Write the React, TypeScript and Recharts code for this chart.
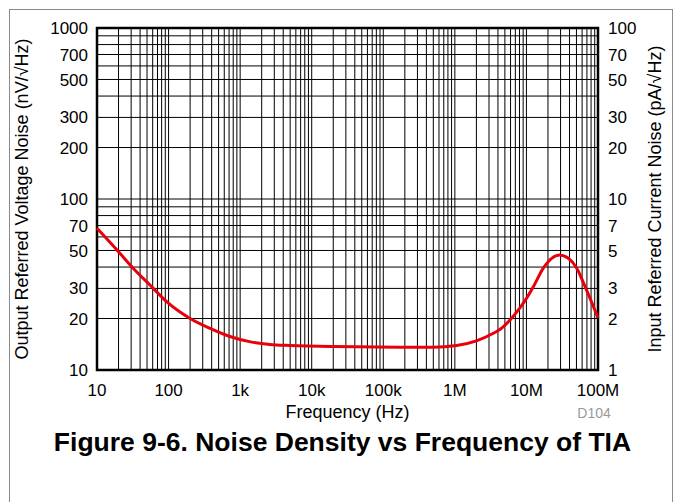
import React from "react";
import { LineChart, Line, XAxis, YAxis, CartesianGrid, ReferenceArea, Label } from "recharts";

const FONT = "'Liberation Sans', Arial, sans-serif";

// Noise density (Hz -> nV/√Hz)
const freqHz = [10, 19, 32, 55, 94, 200, 380, 720, 1400, 2600, 5000, 2e4, 1.7e5, 5e5, 1.06e6, 2e6, 3.45e6, 4.3e6, 6.6e6, 9e6, 1.25e7, 1.72e7, 2.25e7, 2.88e7, 3.85e7, 5.05e7, 6.6e7, 1e8];
const noiseNv = [67.5, 50.4, 39.4, 31.4, 25.1, 20.0, 17.5, 15.7, 14.6, 14.1, 13.9, 13.7, 13.6, 13.6, 13.9, 14.8, 16.4, 17.3, 20.7, 24.5, 30.7, 39.4, 45.0, 47.1, 45.0, 39.4, 30.7, 20.2];

const data = freqHz.map((f, i) => ({ f, v: noiseNv[i] }));

// axis labels
const xDecades = [10, 100, 1e3, 1e4, 1e5, 1e6, 1e7, 1e8];
const xDecadeLabels = ["10", "100", "1k", "10k", "100k", "1M", "10M", "100M"];
const leftLabels = [10, 20, 30, 50, 70, 100, 200, 300, 500, 700, 1000];
const rightLabels = [1, 2, 3, 5, 7, 10, 20, 30, 50, 70, 100];
const multipliers = [1, 2, 3, 4, 5, 6, 7, 8, 9];

// grid ticks: every integer multiple inside each decade
const xGrid = xDecades.slice(0, -1).flatMap(d => multipliers.map(m => d * m)).concat([1e8]);
const yGrid = [10, 100].flatMap(d => multipliers.map(m => d * m)).concat([1000]);
const yRightGrid = yGrid.map(v => v / 10);

const fmtX = (v: number) => {
  const i = xDecades.findIndex(d => Math.abs(d - v) < d * 1e-6);
  return i >= 0 ? xDecadeLabels[i] : "";
};
const fmtY = (list: number[]) => (v: number) => (list.some(l => Math.abs(l - v) < 1e-6) ? String(v) : "");

const tickStyle = { fontSize: 17, fill: "#000", fontFamily: FONT };

export default function App() {
  return (
    <div style={{ position: "absolute", left: 0, top: 0, width: 676, height: 502, background: "#fff" }}>
      <svg width={676} height={502} style={{ position: "absolute", left: 0, top: 0 }}>
        <rect x={9.5} y={9.5} width={663} height={600} fill="none" stroke="#8a8a8a" strokeWidth={1} />
        <text x={342.5} y={450.5} textAnchor="middle" fontFamily={FONT} fontWeight="bold" fontSize={26.5} fill="#000">
          Figure 9-6. Noise Density vs Frequency of TIA
        </text>
        <text x={594} y={417.5} textAnchor="middle" fontFamily={FONT} fontSize={14} fill="#999">D104</text>
      </svg>
      <div style={{ position: "absolute", left: 0, top: 0 }}>
        <LineChart width={676} height={502} data={data} margin={{ top: 28, right: 0, bottom: 0, left: 0 }}>
          <CartesianGrid yAxisId="left" stroke="#000" strokeWidth={1} horizontal vertical />
          <XAxis
            dataKey="f"
            type="number"
            scale="log"
            domain={[10, 1e8]}
            ticks={xGrid}
            interval={0}
            tickFormatter={fmtX}
            tickLine={false}
            axisLine={false}
            tickSize={0}
            tickMargin={14}
            height={132}
            tick={tickStyle}
          >
            <Label
              content={({ viewBox }: any) => (
                <text x={viewBox.x + viewBox.width / 2} y={viewBox.y + 48} textAnchor="middle" fontFamily={FONT} fontSize={18} fill="#000">
                  Frequency (Hz)
                </text>
              )}
            />
          </XAxis>
          <YAxis
            yAxisId="left"
            type="number"
            scale="log"
            domain={[10, 1000]}
            ticks={yGrid}
            interval={0}
            tickFormatter={fmtY(leftLabels)}
            tickLine={false}
            axisLine={false}
            tickSize={0}
            tickMargin={9}
            width={97}
            tick={tickStyle}
            allowDataOverflow
          >
            <Label
              content={({ viewBox }: any) => (
                <text
                  transform={`translate(${viewBox.x + 28},${viewBox.y + viewBox.height / 2}) rotate(-90)`}
                  textAnchor="middle"
                  fontFamily={FONT}
                  fontSize={18}
                  fill="#000"
                >
                  Output Referred Voltage Noise (nV/√Hz)
                </text>
              )}
            />
          </YAxis>
          <YAxis
            yAxisId="right"
            orientation="right"
            type="number"
            scale="log"
            domain={[1, 100]}
            ticks={yRightGrid}
            interval={0}
            tickFormatter={fmtY(rightLabels)}
            tickLine={false}
            axisLine={false}
            tickSize={0}
            tickMargin={10}
            width={78}
            tick={tickStyle}
            allowDataOverflow
          >
            <Label
              content={({ viewBox }: any) => (
                <text
                  transform={`translate(${viewBox.x + 63},${viewBox.y + viewBox.height / 2}) rotate(-90)`}
                  textAnchor="middle"
                  fontFamily={FONT}
                  fontSize={18}
                  fill="#000"
                >
                  Input Referred Current Noise (pA/√Hz)
                </text>
              )}
            />
          </YAxis>
          <Line
            yAxisId="left"
            dataKey="v"
            type="monotone"
            stroke="#e8000b"
            strokeWidth={3}
            dot={false}
            isAnimationActive={false}
          />
          <ReferenceArea
            yAxisId="left"
            x1={10}
            x2={1e8}
            y1={10}
            y2={1000}
            fill="none"
            stroke="#000"
            strokeWidth={2.5}
            ifOverflow="visible"
          />
        </LineChart>
      </div>
    </div>
  );
}
